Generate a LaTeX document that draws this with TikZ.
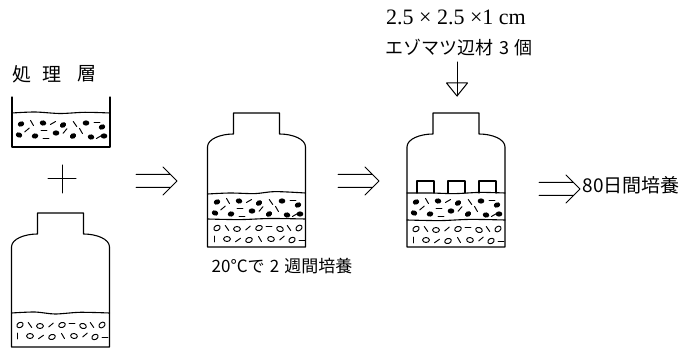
\documentclass[tikz,border=0pt]{standalone}
\usepackage{fontspec}
\setmainfont{Liberation Serif}
\newfontfamily\jpfont{Noto Sans CJK JP}

% granular texture of the treated layer (filled grains and short fibres)
\newcommand\treatlayer[2]{%
  \begin{scope}[shift={(#1,#2)}]
    \foreach \a/\b/\r in {8/7/20,30/6/-10,50/8/30,73/6/0,89/10/20,6/18/-20,22/19/10,43/16/0,60/19/30,78/20/-10,91/19/0}
      \fill[rotate around={\r:(\a,\b)}] (\a,\b) ellipse (3.3 and 2.6);
    \foreach \a/\b/\r in {19/6/60,40/6/-30,62/7/55,84/5/0,14/13/-40,31/13/0,52/14/-50,68/14/60,86/20/-30,33/21/0}
      \draw[fibre] (\a,\b) ++(\r:3) -- ++(\r:-6);
  \end{scope}}

% texture of the medium layer (open grains and short fibres)
\newcommand\mediumlayer[2]{%
  \begin{scope}[shift={(#1,#2)}]
    \foreach \a/\b/\r in {8/7/30,28/8/0,50/7/20,71/8/-20,90/7/40,18/18/0,40/19/20,62/18/-10,83/19/30}
      \draw[fibre, rotate around={\r:(\a,\b)}] (\a,\b) ellipse (3.4 and 2.5);
    \foreach \a/\b/\r in {18/7/55,39/7/-40,60/5/0,80/7/55,5/18/90,29/19/-35,51/18/60,73/17/-40,93/19/0}
      \draw[fibre] (\a,\b) ++(\r:3) -- ++(\r:-6);
  \end{scope}}

\begin{document}
\begin{tikzpicture}[x=1pt,y=-1pt,line width=1.1pt,line join=round,line cap=round,
  fibre/.style={line width=0.95pt},
  jp/.style={font=\jpfont\fontsize{#1}{#1}\selectfont,inner sep=0pt},
  lat/.style={font=\fontsize{#1}{#1}\selectfont,inner sep=0pt},
  bottle/.pic={\draw (0,0) -- (0,-100) .. controls (0,-108) and (13,-113) .. (26,-113)
      -- (26,-134) -- (72,-134) -- (72,-113) .. controls (85,-113) and (98,-108) .. (98,-100)
      -- (98,0) -- cycle;},
  dblarrow/.pic={\draw[line width=1pt] (-41,-6.5) -- (-7,-6.5) (-41,6.5) -- (-7,6.5)
      (-14,-14) -- (0,0) -- (-14,14);}]
\useasboundingbox (0,0) rectangle (686,350);

% label of the treated layer
\node[jp=19] (c1) at (22,74) {処};
\node[jp=19] (c2) at (52,74) {理};
\node[jp=19] (c3) at (87,74) {層};

% open tray with treated soil
\draw (12,97) -- (12,147) -- (110,147) -- (110,97);
\draw plot[smooth] coordinates {(12,113) (35,112) (60,113.5) (85,112.3) (110,113)};
\treatlayer{13}{117}

% plus sign
\coordinate (plus) at (62,179);
\draw[line width=1pt] (plus) ++(0,-14) -- ++(0,28) (plus) ++(-14,0) -- ++(28,0);

% bottle with medium only
\pic at (11.5,347) {bottle};
\draw plot[smooth] coordinates {(11.5,313) (35,312) (55,314) (80,312.3) (109.5,313)};
\mediumlayer{12}{318}

% bottle after two weeks
\pic at (207.5,247) {bottle};
\draw plot[smooth] coordinates {(207.5,194) (230,193) (255,193.6) (275,191.6) (305.5,193)};
\draw plot[smooth] coordinates {(207.5,219) (240,219.6) (270,218.5) (305.5,219)};
\treatlayer{209}{195}
\mediumlayer{209}{221}
\node[jp=17] (t20) at (282,266) {20°Cで\hspace{0.3em}2\hspace{0.3em}週間培養};

% bottle with wood blocks
\pic at (407,247) {bottle};
\draw plot[smooth] coordinates {(407,193) (430,193) (455,193.6) (480,192.4) (505,193)};
\draw plot[smooth] coordinates {(407,220) (440,220.6) (470,219.4) (505,220)};
\treatlayer{408}{195}
\mediumlayer{408}{222}
\foreach \bx in {417,448,479}
  \draw (\bx,193) -- (\bx,181) -- (\bx+17,181) -- (\bx+17,193);

% wood block description and downward arrow
\node[lat=22] (size) at (456,17) {2.5 × 2.5 ×1 cm};
\node[jp=18] (wood) at (459,48) {エゾマツ辺材\hspace{0.3em}3\hspace{0.3em}個};
\coordinate (dtop) at (457,62);
\coordinate (dtip) at (457,96);
\draw[line width=1pt] (dtop) -- (dtip);
\draw[line width=1pt] (dtip) -- ++(-10.5,-13) -- ++(21,0) -- cycle;

% process arrows
\coordinate (a1) at (177,181);
\coordinate (a2) at (379,181);
\coordinate (a3) at (580,189);
\pic at (a1) {dblarrow};
\pic at (a2) {dblarrow};
\pic at (a3) {dblarrow};
\node[jp=19,anchor=west] (d80) at (582,185) {80日間培養};
\end{tikzpicture}
\end{document}
